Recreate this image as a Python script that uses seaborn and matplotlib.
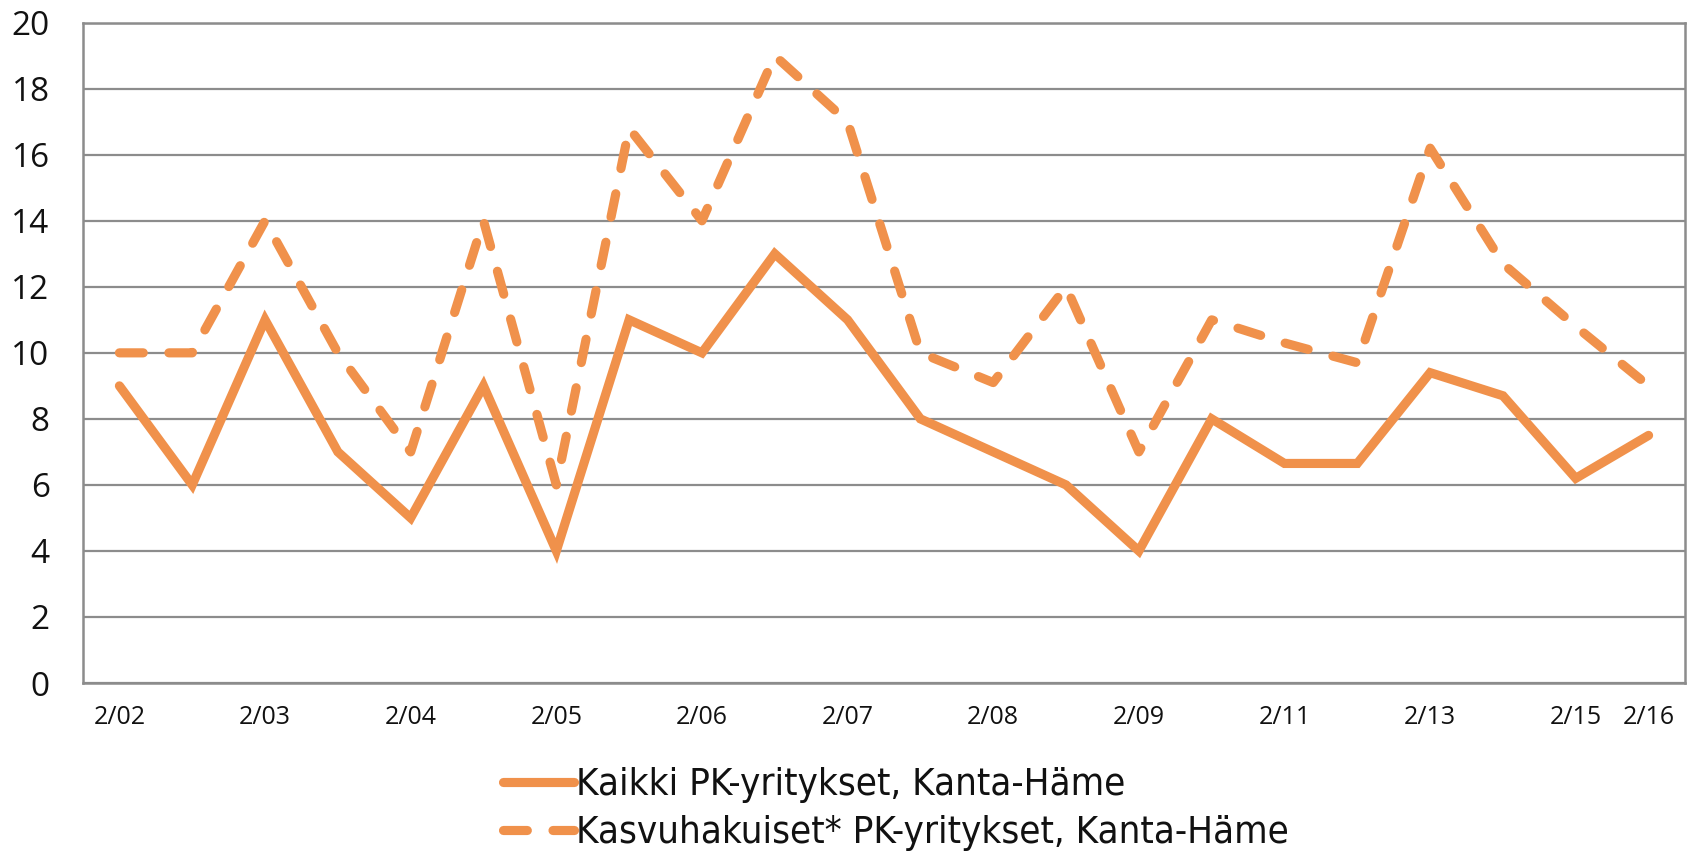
import matplotlib
matplotlib.use("Agg")
import matplotlib.pyplot as plt
from matplotlib import font_manager
import seaborn as sns
import pandas as pd
from matplotlib.lines import Line2D

# ---- data ----
categories = ["2/02", "", "2/03", "", "2/04", "", "2/05", "", "2/06", "", "2/07", "",
              "2/08", "", "2/09", "", "2/11", "", "2/13", "", "2/15", "2/16"]
kaikki = [9, 6, 11, 7, 5, 9, 4, 11, 10, 13, 11, 8, 7, 6, 4, 8, 6.65, 6.65, 9.4, 8.7, 6.2, 7.5]
kasvu = [10, 10, 14, 10, 7, 14, 6, 16.8, 14, 19, 17, 10, 9.1, 12, 7, 11, 10.3, 9.7, 16.2, 12.7, 10.8, 9]
series_names = ["Kaikki PK-yritykset, Kanta-Häme", "Kasvuhakuiset* PK-yritykset, Kanta-Häme"]
yticks = [0, 2, 4, 6, 8, 10, 12, 14, 16, 18, 20]

ORANGE = "#F0914B"
GRID = "#8C8C8C"

sns.set_theme(style="white")
plt.rcParams["font.family"] = ["Open Sans", "DejaVu Sans"]

# find a condensed font for the legend, if any is installed
cond = None
for f in font_manager.fontManager.ttflist:
    nm = f.name.lower()
    st = str(f.stretch).lower()
    if ("narrow" in nm or "condensed" in nm or "condensed" in st) and f.weight in (400, "normal", "regular"):
        if f.style == "normal":
            cond = f
            break
if cond is not None:
    leg_prop = font_manager.FontProperties(fname=cond.fname, size=27.5)
else:
    leg_prop = font_manager.FontProperties(family=["Roboto", "DejaVu Sans"], size=24)

idx = list(range(len(categories)))
df = pd.DataFrame({
    "idx": idx * 2,
    "value": kaikki + kasvu,
    "series": [series_names[0]] * len(idx) + [series_names[1]] * len(idx),
})

fig = plt.figure(figsize=(16.94, 8.56), dpi=100)
ax = fig.add_axes([83 / 1694, 1 - 683 / 856, (1685 - 83) / 1694, (683 - 22.7) / 856])

LW = 6.6
DASH = (2.6, 2.8)
sns.lineplot(data=df, x="idx", y="value", style="series",
             dashes={series_names[0]: "", series_names[1]: DASH},
             color=ORANGE, linewidth=LW, ax=ax, legend=False, zorder=3)

for ln in ax.lines:
    ln.set_dash_capstyle("round")
    ln.set_solid_capstyle("round")
    ln.set_solid_joinstyle("miter")
    ln.set_dash_joinstyle("round")

ax.set_xlim(-0.5, len(categories) - 0.5)
ax.set_ylim(0, 20)
ax.set_yticks(yticks)
ax.set_yticklabels([str(v) for v in yticks], fontsize=24, color="#111111")
ax.set_xticks(idx)
ax.set_xticklabels(categories, fontsize=18, color="#111111")
ax.tick_params(axis="both", length=0)
ax.tick_params(axis="y", pad=24)
ax.tick_params(axis="x", pad=16)
ax.set_xlabel("")
ax.set_ylabel("")
ax.yaxis.grid(True, color=GRID, linewidth=1.6, zorder=0)
ax.xaxis.grid(False)
for sp in ax.spines.values():
    sp.set_visible(True)
    sp.set_color(GRID)
    sp.set_linewidth(1.8)

# legend
h1 = Line2D([0], [0], color=ORANGE, linewidth=LW, solid_capstyle="round")
h2 = Line2D([0], [0], color=ORANGE, linewidth=LW, linestyle=(0, DASH),
            dash_capstyle="round")
leg = fig.legend([h1, h2], series_names, loc="upper left",
                 bbox_to_anchor=(503 / 1694, 1 - 767 / 856),
                 frameon=False, borderpad=0, borderaxespad=0,
                 handlelength=1.85, handletextpad=0.05, labelspacing=0.32,
                 prop=leg_prop)
for t in leg.get_texts():
    t.set_color("#111111")

fig.savefig("out.png", dpi=100)
